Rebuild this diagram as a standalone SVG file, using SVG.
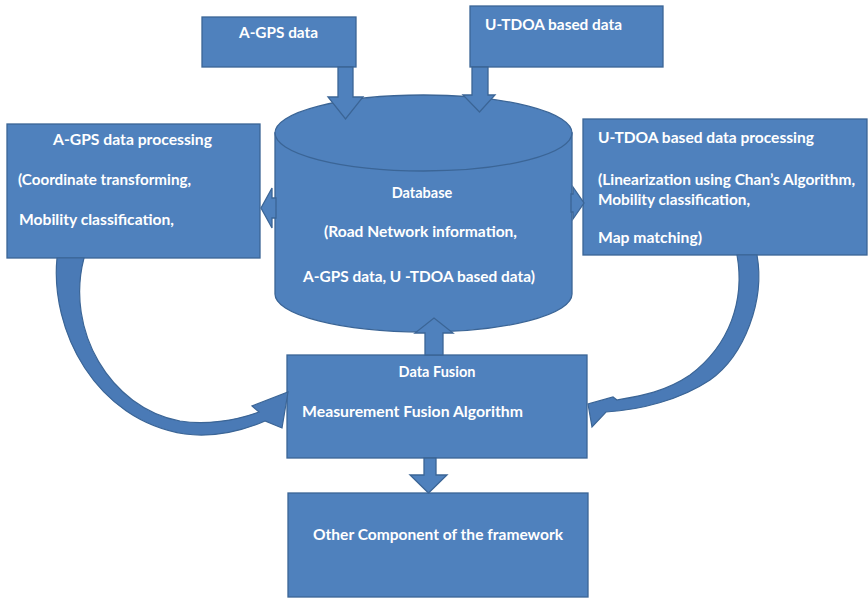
<svg xmlns="http://www.w3.org/2000/svg" width="868" height="599" viewBox="0 0 868 599">
  <defs>
    <style>
      .shape { fill: #4F81BD; stroke: #3B6596; stroke-width: 1.3; stroke-linejoin: miter; }
      .conn { fill: #4A7AB6; stroke: #3B6596; stroke-width: 1.2; stroke-linejoin: miter; }
      .lbl { font-family: Lato, "Open Sans", "Liberation Sans", sans-serif; font-weight: 700; font-size: 14.5px; fill: #FFFFFF; }
      .mid { text-anchor: middle; }
    </style>
  </defs>
  <rect width="868" height="599" fill="#FFFFFF"/>

  <!-- Database cylinder -->
  <g id="database">
    <path class="shape" d="M275,133 L275,294 A148.5,38 0 0 0 572,294 L572,133 Z"/>
    <ellipse class="shape" cx="423.5" cy="133" rx="148.5" ry="38"/>
    <text class="lbl mid" x="422" y="198">Database</text>
    <text class="lbl" x="324" y="237" textLength="193" lengthAdjust="spacingAndGlyphs">(Road Network information,</text>
    <text class="lbl" x="303" y="282" textLength="232" lengthAdjust="spacingAndGlyphs">A-GPS data, U -TDOA based data)</text>
  </g>

  <g id="agps-data">
    <rect class="shape" x="202" y="17" width="154" height="50"/>
    <text class="lbl" x="239" y="38" textLength="79" lengthAdjust="spacingAndGlyphs">A-GPS data</text>
  </g>

  <g id="utdoa-data">
    <rect class="shape" x="470" y="6" width="193" height="61"/>
    <text class="lbl" x="485" y="30" textLength="137" lengthAdjust="spacingAndGlyphs">U-TDOA based data</text>
  </g>

  <g id="agps-processing">
    <rect class="shape" x="7" y="124" width="253" height="134"/>
    <text class="lbl" x="53" y="145" textLength="159" lengthAdjust="spacingAndGlyphs">A-GPS data processing</text>
    <text class="lbl" x="18" y="185" textLength="173" lengthAdjust="spacingAndGlyphs">(Coordinate transforming,</text>
    <text class="lbl" x="19" y="225" textLength="155" lengthAdjust="spacingAndGlyphs">Mobility classification,</text>
  </g>

  <g id="utdoa-processing">
    <rect class="shape" x="583" y="119" width="284" height="136"/>
    <text class="lbl" x="598" y="143" textLength="216" lengthAdjust="spacingAndGlyphs">U-TDOA based data processing</text>
    <text class="lbl" x="598" y="185" textLength="257" lengthAdjust="spacingAndGlyphs">(Linearization using Chan’s Algorithm,</text>
    <text class="lbl" x="598" y="205" textLength="152" lengthAdjust="spacingAndGlyphs">Mobility classification,</text>
    <text class="lbl" x="598" y="243" textLength="104" lengthAdjust="spacingAndGlyphs">Map matching)</text>
  </g>

  <g id="data-fusion">
    <rect class="shape" x="287" y="355" width="300" height="103"/>
    <text class="lbl mid" x="437" y="377">Data Fusion</text>
    <text class="lbl" x="302" y="417" textLength="221" lengthAdjust="spacingAndGlyphs">Measurement Fusion Algorithm</text>
  </g>

  <g id="other-component">
    <rect class="shape" x="288" y="493" width="300" height="104"/>
    <text class="lbl" x="313" y="540" textLength="250" lengthAdjust="spacingAndGlyphs">Other Component of the framework</text>
  </g>

  <!-- Block arrows and curved arrows -->
  <g id="connectors">
    <!-- A-GPS data down into database -->
    <path class="shape" d="M338,67 L353,67 L353,97 L363,97 L345.5,119 L328,97 L338,97 Z"/>
    <!-- U-TDOA data down into database -->
    <path class="shape" d="M472,67 L488,67 L488,95 L495,95 L479.5,112 L463,95 L472,95 Z"/>
    <!-- database to A-GPS processing -->
    <path class="shape" d="M276,198 L276,218 L272,218 L272,228 L261,208 L272,188 L272,198 Z"/>
    <!-- database to U-TDOA processing -->
    <path class="shape" d="M571,194 L573,194 L573,187 L584,203 L573,219 L573,212 L571,212 Z"/>
    <!-- data fusion up into database -->
    <path class="shape" d="M425,355 L443,355 L443,333 L453,333 L434,318 L415,333 L425,333 Z"/>
    <!-- data fusion down to other component -->
    <path class="shape" d="M424,458 L436,458 L436,475 L447,475 L428.5,493 L410,475 L424,475 Z"/>
    <!-- A-GPS processing curving into data fusion -->
    <path class="conn" d="M57,258 C50,330 95,420 185,434 C215,438 245,430 265,421 L282,428 L288,392 L252,406 L259,412 C235,421 205,425 180,421 C110,408 65,330 84,258 Z"/>
    <!-- U-TDOA processing curving into data fusion -->
    <path class="conn" d="M737,255 C745,300 730,345 690,375 C665,392 640,396 617,400 L613,397 L588,404 L592,427 L606,412 C640,410 680,400 710,380 C745,355 765,300 757,255 Z"/>
  </g>
</svg>
